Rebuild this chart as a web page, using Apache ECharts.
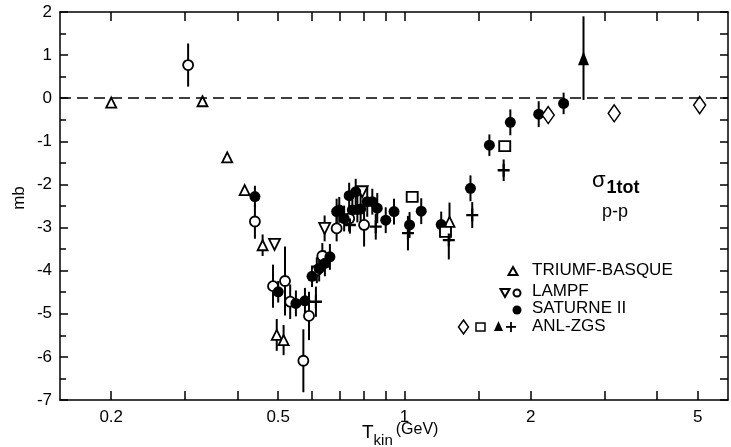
<!DOCTYPE html>
<html>
<head>
<meta charset="utf-8">
<script src="https://cdn.jsdelivr.net/npm/echarts@6/dist/echarts.min.js"></script>
<style>html,body{margin:0;padding:0;background:#fff;}#c{width:731px;height:447px;}</style>
</head>
<body>
<div id="c"></div>
<script>
// ---- data (x: T_kin in GeV, y: mb, e: symmetric error in mb) ----
const triumfX = [0.2, 0.33, 0.378, 0.416, 0.459, 0.496, 0.515, 1.28];
const triumfY = [-0.1, -0.07, -1.37, -2.13, -3.41, -5.49, -5.61, -2.87];
const triumfE = [0, 0, 0, 0, 0.25, 0.37, 0.35, 0.45];

const lampfTriX = [0.49, 0.645, 0.793];
const lampfTriY = [-3.39, -3.02, -2.17];
const lampfTriE = [0, 0.3, 0];

const lampfCircX = [0.305, 0.44, 0.486, 0.519, 0.534, 0.574, 0.592, 0.618, 0.637, 0.689, 0.738, 0.801];
const lampfCircY = [0.77, -2.86, -4.36, -4.24, -4.72, -6.09, -5.05, -3.99, -3.66, -3.02, -2.79, -2.94];
const lampfCircE = [0.5, 0.4, 0.5, 0.8, 0.4, 0.73, 0.56, 0.3, 0.3, 0.3, 0.3, 0.5];

const saturneX = [0.44, 0.50, 0.551, 0.579, 0.602, 0.626, 0.646, 0.664, 0.689, 0.699, 0.718, 0.738, 0.751, 0.765, 0.772, 0.786, 0.815, 0.838, 0.861, 0.902, 0.944, 1.028, 1.096, 1.223, 1.436, 1.593, 1.787, 2.088, 2.394];
const saturneY = [-2.28, -4.49, -4.76, -4.70, -4.13, -3.95, -3.83, -3.68, -2.63, -2.59, -2.79, -2.26, -2.59, -2.17, -2.58, -2.57, -2.40, -2.40, -2.55, -2.83, -2.63, -2.94, -2.62, -2.93, -2.09, -1.09, -0.56, -0.37, -0.12];
const saturneE = [0.25, 0.25, 0.3, 0.3, 0.25, 0.3, 0.3, 0.3, 0.3, 0.3, 0.3, 0.3, 0.3, 0.3, 0.3, 0.35, 0.35, 0.3, 0.35, 0.3, 0.3, 0.3, 0.3, 0.3, 0.3, 0.25, 0.3, 0.3, 0.25];

const anlDiamX = [2.2, 3.16, 5.05];
const anlDiamY = [-0.39, -0.35, -0.16];
const anlSqX = [1.043, 1.252, 1.733];
const anlSqY = [-2.29, -3.1, -1.11];
const anlTriX = [2.67];
const anlTriY = [0.93];
const anlTriE = [0.97];
const anlPlusX = [0.615, 0.741, 0.854, 1.019, 1.275, 1.45, 1.723];
const anlPlusY = [-4.72, -2.94, -2.98, -3.13, -3.29, -2.71, -1.67];
const anlPlusE = [0.35, 0.2, 0.3, 0.4, 0.45, 0.3, 0.25];

const xTickValues = [0.2, 0.3, 0.4, 0.5, 0.6, 0.7, 0.8, 0.9, 1, 1.5, 2, 3, 4, 5];
const xLabelValues = [0.2, 0.5, 1, 2, 5];
const xLabelTexts = ['0.2', '0.5', '1', '2', '5'];
const xMin = 0.151, xMax = 5.9;
const yMin = -7, yMax = 2;

// ---- helpers ----
const lg = v => Math.log10(v);
const pts = (xs, ys) => xs.map((x, i) => [lg(x), ys[i]]);
const errs = (xs, ys, es) => xs.map((x, i) => [lg(x), ys[i] - es[i], ys[i] + es[i]]).filter((d, i) => es[i] > 0);
const FONT = 'Liberation Sans';

const errData = [].concat(
  errs(triumfX, triumfY, triumfE),
  errs(lampfTriX, lampfTriY, lampfTriE),
  errs(lampfCircX, lampfCircY, lampfCircE),
  errs(saturneX, saturneY, saturneE),
  errs(anlTriX, anlTriY, anlTriE),
  errs(anlPlusX, anlPlusY, anlPlusE)
);

const openStyle = {color: '#fff', borderColor: '#000', borderWidth: 1.8, opacity: 1};
const solidStyle = {color: '#000', opacity: 1};
const PLUS = 'path://M4.1,0H5.9V10H4.1ZM0,4.1H10V5.9H0Z';
const DOWN = 'path://M0,0L10,0L5,10Z';

const chart = echarts.init(document.getElementById('c'), null, {renderer: 'canvas'});
const xCommon = {
  type: 'value', min: lg(xMin), max: lg(xMax),
  splitLine: {show: false},
  axisLine: {show: true, onZero: false, lineStyle: {color: '#000', width: 1.5}},
  axisTick: {show: true, inside: true, length: 9, customValues: xTickValues.map(lg), lineStyle: {color: '#000', width: 1.5}}
};
chart.setOption({
  animation: false,
  backgroundColor: '#fff',
  grid: {left: 60, right: 3, top: 12, bottom: 47},
  xAxis: [
    Object.assign({}, xCommon, {
      position: 'bottom',
      axisLabel: {
        customValues: xLabelValues.map(lg), color: '#000', fontSize: 17, fontFamily: FONT, margin: 9,
        formatter: v => { const i = xLabelValues.findIndex(t => Math.abs(lg(t) - v) < 1e-6); return i >= 0 ? xLabelTexts[i] : ''; }
      }
    }),
    Object.assign({}, xCommon, {position: 'top', axisLabel: {show: false}})
  ],
  yAxis: [
    {
      type: 'value', min: yMin, max: yMax, interval: 1, position: 'left',
      splitLine: {show: false},
      axisLine: {show: true, onZero: false, lineStyle: {color: '#000', width: 1.5}},
      axisTick: {inside: true, length: 8, lineStyle: {color: '#000', width: 1.5}},
      minorTick: {show: true, splitNumber: 2, length: 6, lineStyle: {color: '#000', width: 1.5}},
      axisLabel: {color: '#000', fontSize: 17, fontFamily: FONT, margin: 8, formatter: v => String(v)}
    },
    {
      type: 'value', min: yMin, max: yMax, interval: 0.5, position: 'right',
      splitLine: {show: false},
      axisLine: {show: true, onZero: false, lineStyle: {color: '#000', width: 1.5}},
      axisTick: {inside: true, length: 8, lineStyle: {color: '#000', width: 1.5}},
      axisLabel: {show: false}
    }
  ],
  series: [
    {
      type: 'custom', name: 'err', data: errData, z: 1, silent: true,
      encode: {x: 0, y: [1, 2]},
      renderItem: (params, api) => {
        const a = api.coord([api.value(0), api.value(1)]);
        const b = api.coord([api.value(0), api.value(2)]);
        return {type: 'line', shape: {x1: a[0], y1: a[1], x2: b[0], y2: b[1]}, style: {stroke: '#000', lineWidth: 2}};
      },
      markLine: {
        silent: true, symbol: ['none', 'none'], label: {show: false},
        lineStyle: {color: '#000', type: [11, 6], width: 1.5, opacity: 1},
        data: [{yAxis: 0}]
      }
    },
    {type: 'scatter', name: 'TRIUMF-BASQUE', data: pts(triumfX, triumfY), symbol: 'triangle', symbolSize: [10, 10], itemStyle: openStyle, z: 3},
    {type: 'scatter', name: 'LAMPF-tri', data: pts(lampfTriX, lampfTriY), symbol: DOWN, symbolSize: [11, 11], itemStyle: openStyle, z: 3},
    {type: 'scatter', name: 'LAMPF-circ', data: pts(lampfCircX, lampfCircY), symbol: 'circle', symbolSize: 10, itemStyle: openStyle, z: 3},
    {type: 'scatter', name: 'SATURNE II', data: pts(saturneX, saturneY), symbol: 'circle', symbolSize: 11, itemStyle: solidStyle, z: 3},
    {type: 'scatter', name: 'ANL-diam', data: pts(anlDiamX, anlDiamY), symbol: 'diamond', symbolSize: [12, 17], itemStyle: {color: '#fff', borderColor: '#000', borderWidth: 1.5, opacity: 1}, z: 3},
    {type: 'scatter', name: 'ANL-sq', data: pts(anlSqX, anlSqY), symbol: 'rect', symbolSize: [11, 10], itemStyle: {color: '#fff', borderColor: '#000', borderWidth: 1.8, opacity: 1}, z: 3},
    {type: 'scatter', name: 'ANL-tri', data: pts(anlTriX, anlTriY), symbol: 'triangle', symbolSize: [11, 14], itemStyle: solidStyle, z: 3},
    {type: 'scatter', name: 'ANL-plus', data: pts(anlPlusX, anlPlusY), symbol: PLUS, symbolSize: [12, 13], itemStyle: solidStyle, z: 3}
  ],
  graphic: [
    // axis titles
    {type: 'text', x: 19, y: 198, rotation: Math.PI / 2, style: {text: 'mb', fill: '#000', font: '17px ' + FONT, align: 'center', verticalAlign: 'middle'}},
    {type: 'text', x: 362, y: 420, style: {
      text: '{t|T}{s|kin}{g|(GeV)}', fill: '#000',
      rich: {
        t: {fontSize: 19, fontFamily: FONT, verticalAlign: 'bottom', lineHeight: 22},
        s: {fontSize: 15, fontFamily: FONT, verticalAlign: 'bottom', padding: [0, 3, -6, 0]},
        g: {fontSize: 16, fontFamily: FONT, verticalAlign: 'bottom', padding: [0, 0, 4, 0]}
      }}},
    // annotation
    {type: 'text', x: 592, y: 170, style: {
      text: '{a|σ}{b|1tot}', fill: '#000',
      rich: {
        a: {fontSize: 22, fontFamily: FONT, verticalAlign: 'bottom'},
        b: {fontSize: 18, fontFamily: FONT, fontWeight: 'bold', verticalAlign: 'bottom', padding: [0, 0, -5, 1]}
      }}},
    {type: 'text', x: 602, y: 203, style: {text: 'p-p', fill: '#000', font: '18px ' + FONT}},
    // legend
    {type: 'polygon', shape: {points: [[513, 267], [517.5, 275], [508.5, 275]]}, style: {fill: '#fff', stroke: '#000', lineWidth: 2}},
    {type: 'text', x: 532, y: 262, style: {text: 'TRIUMF-BASQUE', fill: '#000', font: '17px ' + FONT}},
    {type: 'polygon', shape: {points: [[500.5, 289], [509.5, 289], [505, 297]]}, style: {fill: '#fff', stroke: '#000', lineWidth: 2}},
    {type: 'circle', shape: {cx: 517, cy: 293, r: 3.5}, style: {fill: '#fff', stroke: '#000', lineWidth: 2}},
    {type: 'text', x: 532, y: 283, style: {text: 'LAMPF', fill: '#000', font: '17px ' + FONT}},
    {type: 'circle', shape: {cx: 517, cy: 310, r: 4.5}, style: {fill: '#000'}},
    {type: 'text', x: 532, y: 300, style: {text: 'SATURNE II', fill: '#000', font: '17px ' + FONT}},
    {type: 'polygon', shape: {points: [[463.5, 320], [468.5, 327], [463.5, 334], [458.5, 327]]}, style: {fill: '#fff', stroke: '#000', lineWidth: 1.5}},
    {type: 'rect', shape: {x: 476, y: 323, width: 9, height: 8}, style: {fill: '#fff', stroke: '#000', lineWidth: 1.5}},
    {type: 'polygon', shape: {points: [[498.5, 321], [503, 331], [494, 331]]}, style: {fill: '#000'}},
    {type: 'rect', shape: {x: 506, y: 326, width: 10, height: 1.8}, style: {fill: '#000'}},
    {type: 'rect', shape: {x: 510.1, y: 322, width: 1.8, height: 10}, style: {fill: '#000'}},
    {type: 'text', x: 532, y: 318, style: {text: 'ANL-ZGS', fill: '#000', font: '17px ' + FONT}}
  ]
});
</script>
</body>
</html>
